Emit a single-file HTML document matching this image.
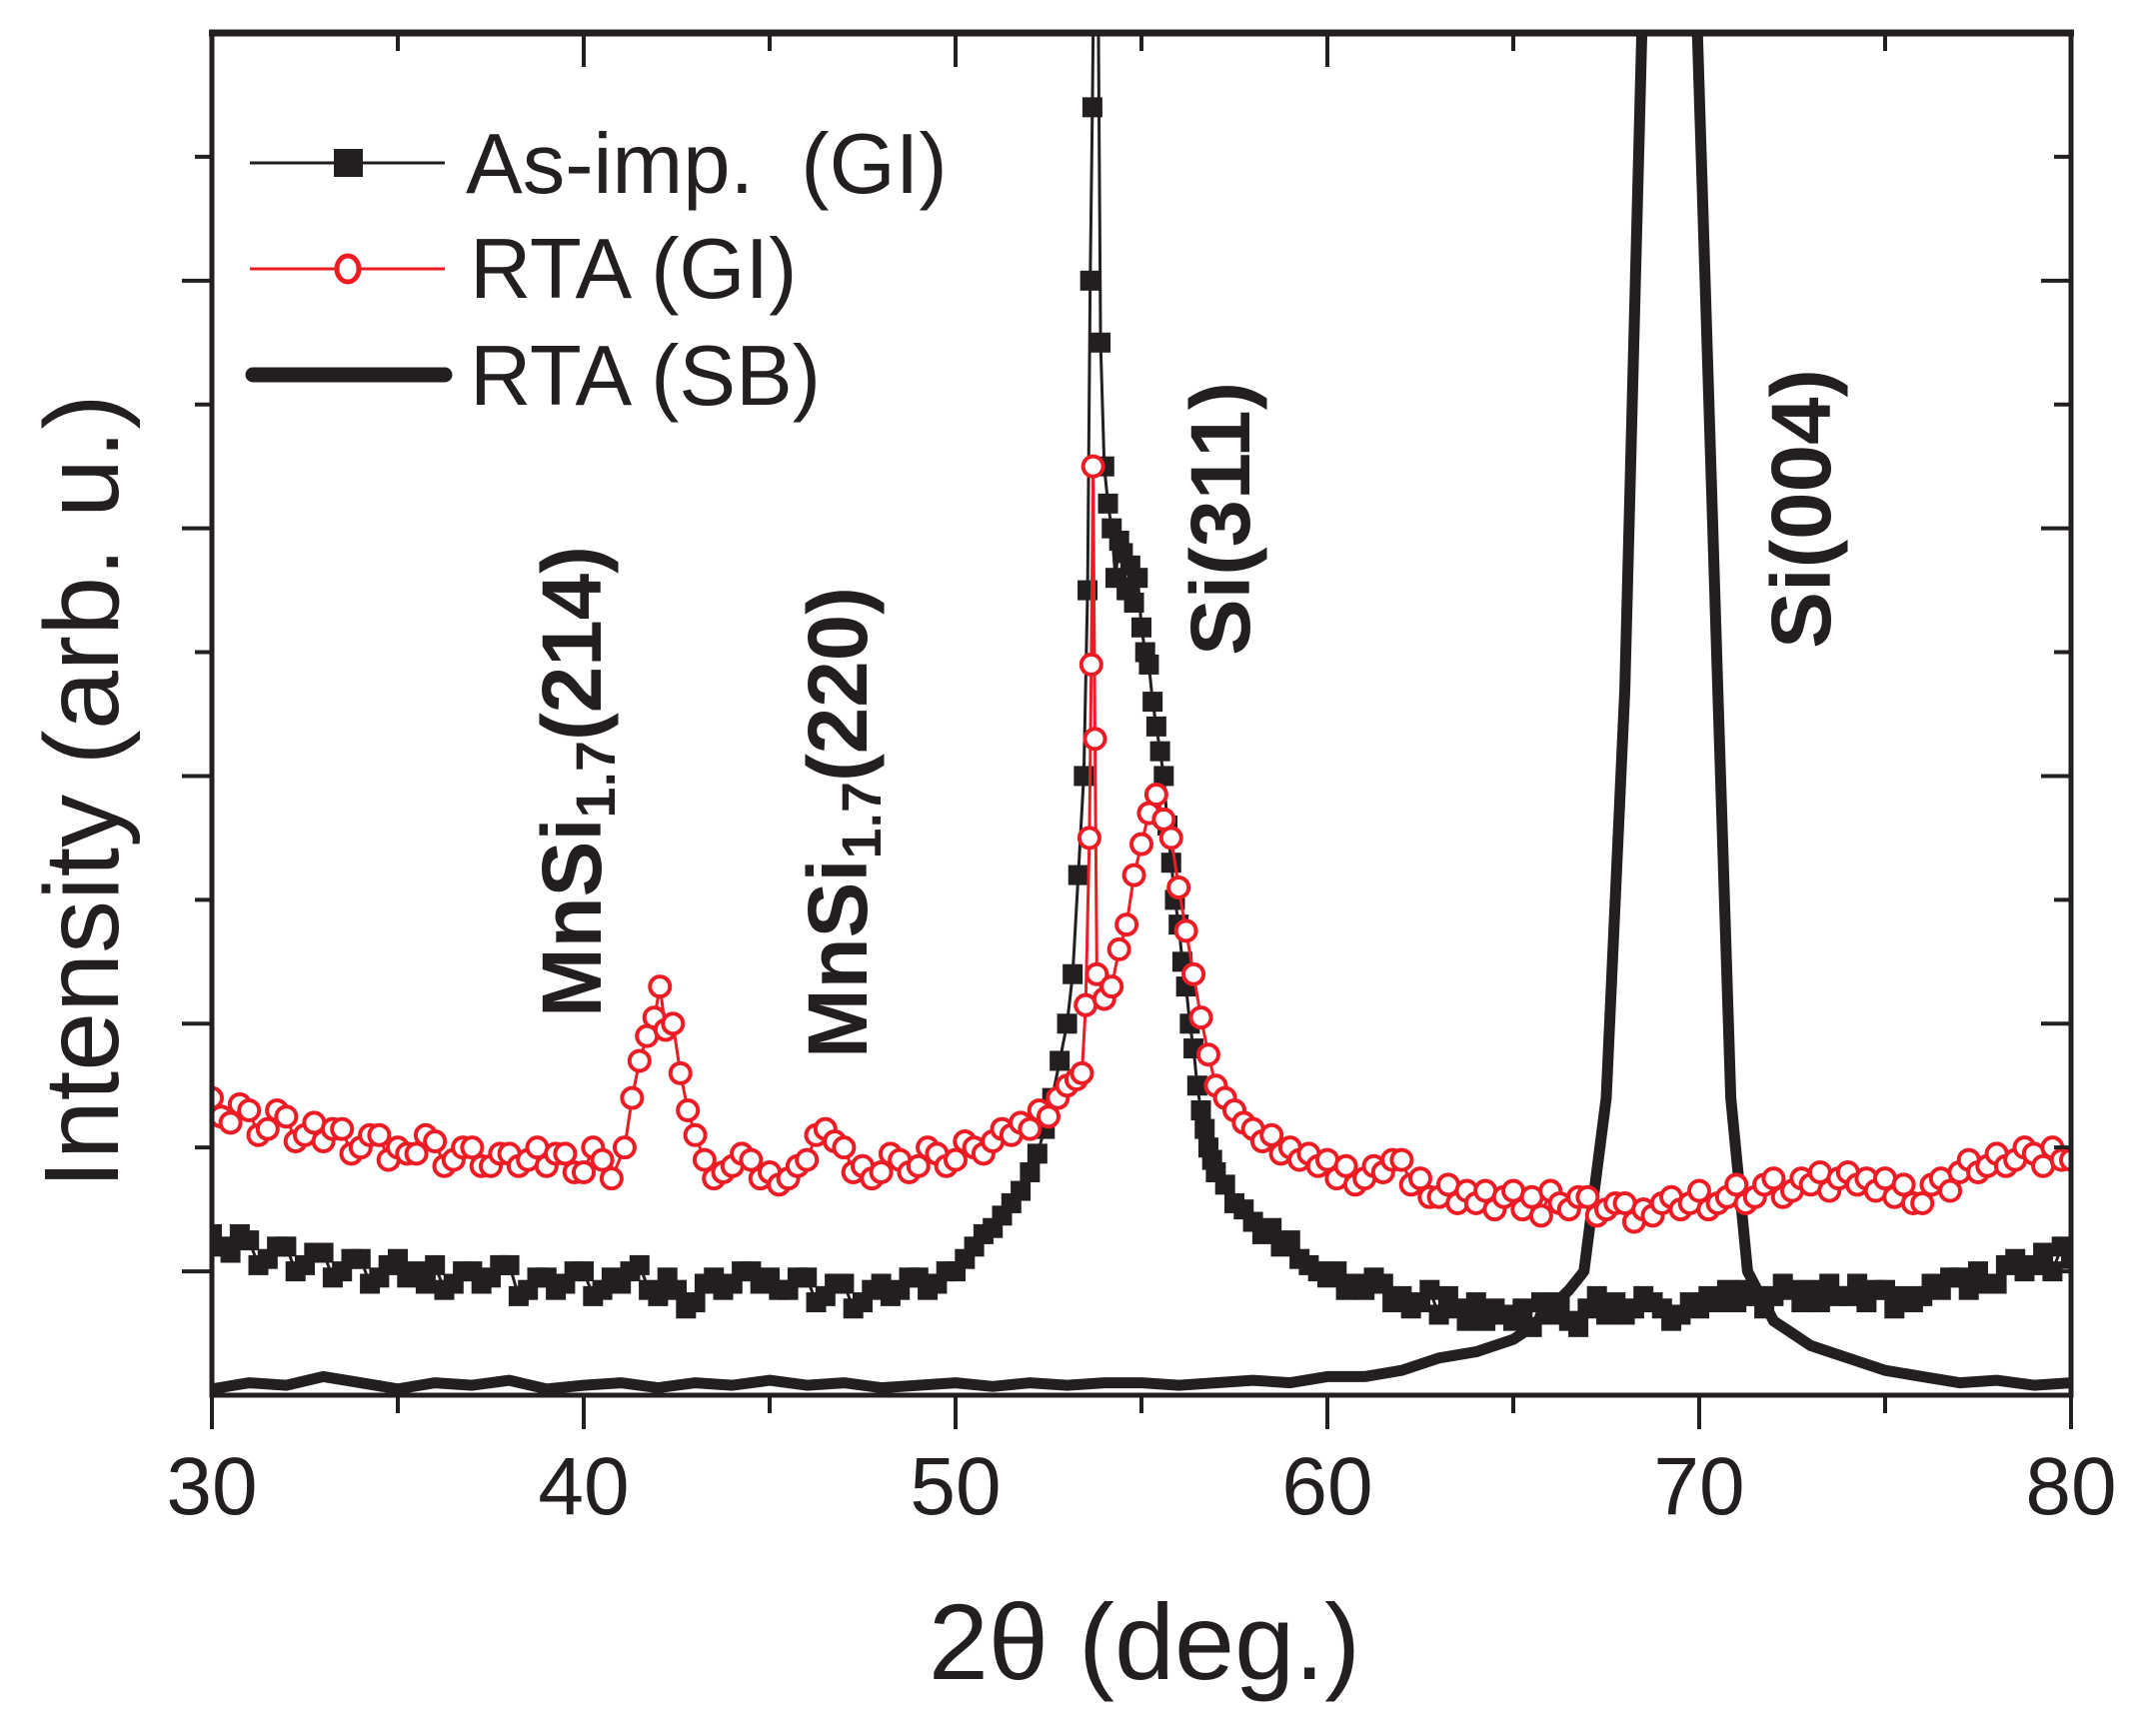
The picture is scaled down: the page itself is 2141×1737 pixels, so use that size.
<!DOCTYPE html>
<html><head><meta charset="utf-8"><style>
html,body{margin:0;padding:0;background:#fff;}
svg{display:block;font-family:"Liberation Sans",Arial,sans-serif;}
</style></head><body>
<svg id="chart" width="2141" height="1737" viewBox="0 0 2141 1737" xmlns="http://www.w3.org/2000/svg">
<defs><clipPath id="plotclip"><rect x="212" y="33" width="1860" height="1363"/></clipPath></defs>
<g id="series" clip-path="url(#plotclip)"></g>
<g id="axes"></g>
<g id="legend">
  <g>
    <line x1="250" y1="163" x2="445" y2="163" stroke="#231f20" stroke-width="3"/>
    <rect x="334" y="149" width="29" height="28" fill="#231f20"/>
    <text x="466" y="193" font-size="85" fill="#231f20" style="white-space:pre">As-imp.  (GI)</text>
  </g>
  <g>
    <line x1="250" y1="269" x2="445" y2="269" stroke="#ed1c24" stroke-width="3"/>
    <ellipse cx="348" cy="269" rx="11" ry="13" fill="#fff" stroke="#ed1c24" stroke-width="5"/>
    <text x="470" y="298" font-size="85" fill="#231f20">RTA (GI)</text>
  </g>
  <g>
    <line x1="253" y1="375" x2="445" y2="375" stroke="#231f20" stroke-width="15" stroke-linecap="round"/>
    <text x="470" y="405" font-size="85" fill="#231f20">RTA (SB)</text>
  </g>
</g>
<g font-weight="bold" fill="#231f20" font-size="84">
  <text transform="translate(601,1018) rotate(-90)" textLength="472" lengthAdjust="spacingAndGlyphs">MnSi<tspan font-size="56" dy="14">1.7</tspan><tspan dy="-14">(214)</tspan></text>
  <text transform="translate(867,1059) rotate(-90)" textLength="472" lengthAdjust="spacingAndGlyphs">MnSi<tspan font-size="56" dy="14">1.7</tspan><tspan dy="-14">(220)</tspan></text>
  <text transform="translate(1250,656) rotate(-90)" textLength="274" lengthAdjust="spacingAndGlyphs">Si(311)</text>
  <text transform="translate(1831,649) rotate(-90)" textLength="280" lengthAdjust="spacingAndGlyphs">Si(004)</text>
</g>
<text x="1145" y="1680" font-size="108" text-anchor="middle" fill="#231f20">2θ (deg.)</text>
<text transform="translate(118,792) rotate(-90)" font-size="106" text-anchor="middle" fill="#231f20">Intensity (arb. u.)</text>
</svg>
<script>
const xMin = 30, xMax = 80, yMin = 0, yMax = 11;
const xTicks = [30, 40, 50, 60, 70, 80];
const xTickLabels = ["30", "40", "50", "60", "70", "80"];

const asImpX = [30,30.25,30.5,30.75,31,31.25,31.5,31.75,32,32.25,32.5,32.75,33,33.25,33.5,33.75,34,34.25,34.5,34.75,35,35.25,35.5,35.75,36,36.25,36.5,36.75,37,37.25,37.5,37.75,38,38.25,38.5,38.75,39,39.25,39.5,39.75,40,40.25,40.5,40.75,41,41.25,41.5,41.75,42,42.25,42.5,42.75,43,43.25,43.5,43.75,44,44.25,44.5,44.75,45,45.25,45.5,45.75,46,46.25,46.5,46.75,47,47.25,47.5,47.75,48,48.25,48.5,48.75,49,49.25,49.5,49.75,50,50.25,50.5,50.75,51,51.25,51.5,51.75,52,
52.2,52.4,52.6,52.8,53.0,53.15,53.3,53.45,53.55,53.62,53.68,53.75,53.82,53.9,54.0,54.1,54.2,54.3,54.4,54.5,54.6,54.7,54.8,54.9,55.0,55.1,55.2,55.3,55.4,55.5,55.6,55.7,55.8,55.9,56.0,56.1,56.2,56.3,56.4,56.5,56.6,56.7,56.8,56.9,
57,57.25,57.5,57.75,58,58.25,58.5,58.75,59,59.25,59.5,59.75,60,60.25,60.5,60.75,61,61.25,61.5,61.75,62,62.25,62.5,62.75,63,63.25,63.5,63.75,64,64.25,64.5,64.75,65,65.25,65.5,65.75,66,66.25,66.5,66.75,67,67.25,67.5,67.75,68,68.25,68.5,68.75,69,69.25,69.5,69.75,70,70.25,70.5,70.75,71,71.25,71.5,71.75,72,72.25,72.5,72.75,73,73.25,73.5,73.75,74,74.25,74.5,74.75,75,75.25,75.5,75.75,76,76.25,76.5,76.75,77,77.25,77.5,77.75,78,78.25,78.5,78.75,79,79.25,79.5,79.75,80];
const asImpY = [1.3,1.2,1.15,1.3,1.25,1.05,1.1,1.2,1.2,1.0,1.05,1.15,1.15,0.95,1.0,1.1,1.1,0.9,0.95,1.05,1.1,0.95,1.0,0.9,1.05,0.85,0.9,1.0,1.0,0.9,0.95,1.05,1.05,0.8,0.85,0.95,0.95,0.85,0.9,1.0,1.0,0.8,0.85,0.95,0.9,1.0,1.05,0.85,0.8,0.95,0.85,0.7,0.75,0.9,0.95,0.85,0.9,1.0,1.0,0.9,0.95,0.85,0.85,0.95,0.95,0.75,0.8,0.9,0.9,0.7,0.75,0.85,0.9,0.8,0.85,0.95,0.95,0.85,0.9,1.0,1.0,1.1,1.2,1.3,1.35,1.45,1.55,1.65,1.8,
1.95,2.15,2.4,2.7,3.0,3.4,4.2,5.0,6.5,9.0,10.4,12.5,12,8.5,7.5,7.2,7.0,6.6,6.9,6.8,6.5,6.7,6.4,6.6,6.2,6.0,5.9,5.6,5.4,5.2,5.0,4.6,4.3,4.0,3.8,3.5,3.3,3.0,2.8,2.5,2.3,2.15,2.0,1.9,
1.8,1.7,1.55,1.5,1.4,1.3,1.35,1.2,1.25,1.1,1.05,1.0,0.95,1.0,0.85,0.9,0.85,0.95,0.9,0.75,0.8,0.7,0.75,0.85,0.65,0.8,0.7,0.6,0.75,0.6,0.7,0.65,0.6,0.7,0.55,0.75,0.65,0.75,0.6,0.55,0.7,0.8,0.65,0.75,0.65,0.7,0.8,0.75,0.7,0.6,0.65,0.75,0.7,0.8,0.75,0.85,0.75,0.85,0.8,0.7,0.8,0.9,0.85,0.75,0.85,0.75,0.9,0.8,0.8,0.9,0.75,0.85,0.85,0.7,0.8,0.75,0.8,0.9,0.85,0.95,0.95,0.85,1.0,0.9,0.9,1.05,1.1,1.0,1.05,1.15,1.0,1.2,1.1];

const rtaGiX = [30,30.25,30.5,30.75,31,31.25,31.5,31.75,32,32.25,32.5,32.75,33,33.25,33.5,33.75,34,34.25,34.5,34.75,35,35.25,35.5,35.75,36,36.25,36.5,36.75,37,37.25,37.5,37.75,38,38.25,38.5,38.75,39,39.25,39.5,39.75,40,40.25,40.5,40.75,
41.1,41.3,41.5,41.7,41.9,42.05,42.2,42.4,42.6,42.8,43,43.25,43.5,43.75,
44,44.25,44.5,44.75,45,45.25,45.5,45.75,46,46.25,46.5,46.75,47,47.25,47.5,47.75,48,48.25,48.5,48.75,49,49.25,49.5,49.75,50,50.25,50.5,50.75,51,51.25,51.5,51.75,52,52.25,52.5,52.75,53,53.25,53.4,
53.5,53.6,53.65,53.7,53.75,53.8,54.0,54.2,54.4,54.6,54.8,55.0,55.2,55.4,55.6,55.8,56.0,56.2,56.4,56.6,56.8,
57,57.25,57.5,57.75,58,58.25,58.5,58.75,59,59.25,59.5,59.75,60,60.25,60.5,60.75,61,61.25,61.5,61.75,62,62.25,62.5,62.75,63,63.25,63.5,63.75,64,64.25,64.5,64.75,65,65.25,65.5,65.75,66,66.25,66.5,66.75,67,67.25,67.5,67.75,68,68.25,68.5,68.75,69,69.25,69.5,69.75,70,70.25,70.5,70.75,71,71.25,71.5,71.75,72,72.25,72.5,72.75,73,73.25,73.5,73.75,74,74.25,74.5,74.75,75,75.25,75.5,75.75,76,76.25,76.5,76.75,77,77.25,77.5,77.75,78,78.25,78.5,78.75,79,79.25,79.5,79.75,80];
const rtaGiY = [2.4,2.25,2.2,2.35,2.3,2.1,2.15,2.3,2.25,2.05,2.1,2.2,2.05,2.15,2.15,1.95,2.0,2.1,2.1,1.9,2.0,1.95,1.95,2.1,2.05,1.85,1.9,2.0,2.0,1.85,1.85,1.95,1.95,1.85,1.9,2.0,1.85,1.95,1.95,1.8,1.8,2.0,1.9,1.75,
2.0,2.4,2.7,2.9,3.05,3.3,2.95,3.0,2.6,2.3,2.1,1.9,1.75,1.8,
1.85,1.95,1.9,1.75,1.8,1.7,1.75,1.85,1.9,2.1,2.15,2.05,2.0,1.8,1.85,1.75,1.8,1.95,1.9,1.8,1.85,2.0,1.95,1.85,1.9,2.05,2.0,1.95,2.05,2.15,2.1,2.2,2.15,2.3,2.25,2.4,2.5,2.55,2.6,
3.15,4.5,5.9,7.5,5.3,3.4,3.2,3.3,3.6,3.8,4.2,4.45,4.7,4.85,4.65,4.5,4.1,3.75,3.4,3.05,2.75,
2.5,2.4,2.3,2.2,2.15,2.05,2.1,1.95,2.0,1.9,1.95,1.85,1.9,1.75,1.85,1.7,1.75,1.85,1.8,1.9,1.9,1.7,1.75,1.6,1.6,1.7,1.55,1.65,1.55,1.65,1.5,1.6,1.65,1.5,1.6,1.45,1.65,1.55,1.5,1.6,1.6,1.45,1.5,1.55,1.55,1.4,1.5,1.45,1.55,1.6,1.5,1.55,1.65,1.5,1.55,1.6,1.7,1.55,1.6,1.7,1.75,1.6,1.65,1.75,1.7,1.8,1.65,1.75,1.8,1.7,1.75,1.65,1.75,1.6,1.7,1.55,1.55,1.7,1.75,1.65,1.8,1.9,1.8,1.85,1.95,1.85,1.9,2.0,1.95,1.85,2.0,1.9,1.9];

const rtaSbX = [30,31,32,33,34,35,36,37,38,39,40,41,42,43,44,45,46,47,48,49,50,51,52,53,54,55,56,57,58,59,60,61,62,63,64,65,65.5,66,66.5,66.9,67.5,68.0,68.5,68.7,69.7,69.9,70.5,70.85,71.3,72,72.5,73,73.5,74,75,76,77,78,79,80];
const rtaSbY = [0.05,0.1,0.08,0.15,0.1,0.05,0.1,0.08,0.12,0.05,0.08,0.1,0.06,0.1,0.08,0.12,0.08,0.1,0.06,0.08,0.1,0.07,0.1,0.08,0.1,0.1,0.08,0.1,0.12,0.1,0.15,0.15,0.2,0.3,0.35,0.45,0.55,0.7,0.85,1.0,2.4,5.7,11.5,13,13,11.5,5.7,2.4,1.0,0.6,0.5,0.4,0.35,0.3,0.2,0.15,0.1,0.12,0.08,0.1];

const L = 212, R = 2072, T = 33, B = 1396;
function sx(v){ return L + (v - xMin) / (xMax - xMin) * (R - L); }
function sy(v){ return B - (v - yMin) / (yMax - yMin) * (B - T); }
const NS = "http://www.w3.org/2000/svg";
function mk(tag, attrs, parent){
  const e = document.createElementNS(NS, tag);
  for (const k in attrs) e.setAttribute(k, attrs[k]);
  parent.appendChild(e); return e;
}
const series = document.getElementById('series');
const axes = document.getElementById('axes');

let d = rtaSbX.map((x,i)=>(i?'L':'M')+sx(x).toFixed(1)+' '+sy(rtaSbY[i]).toFixed(1)).join(' ');
const sb = mk('path', {d:d, fill:'none', stroke:'#231f20', 'stroke-width':11, 'stroke-linejoin':'round'}, series);



d = asImpX.map((x,i)=>(i?'L':'M')+sx(x).toFixed(1)+' '+sy(asImpY[i]).toFixed(1)).join(' ');
const al = mk('path', {d:d, fill:'none', stroke:'#231f20', 'stroke-width':3}, series);


asImpX.forEach((x,i)=>{
  const s = 20;
  const r = mk('rect', {x:sx(x)-s/2, y:sy(asImpY[i])-s/2, width:s, height:s, fill:'#231f20'}, series);
  
  
});

d = rtaGiX.map((x,i)=>(i?'L':'M')+sx(x).toFixed(1)+' '+sy(rtaGiY[i]).toFixed(1)).join(' ');
const rl = mk('path', {d:d, fill:'none', stroke:'#ed1c24', 'stroke-width':3}, series);


rtaGiX.forEach((x,i)=>{
  const c = mk('circle', {cx:sx(x), cy:sy(rtaGiY[i]), r:10, fill:'#fff', stroke:'#ed1c24', 'stroke-width':4}, series);
  
  
});

const fr = mk('rect', {x:L, y:T, width:R-L, height:B-T, fill:'none', stroke:'#231f20', 'stroke-width':5}, axes);


mk('line', {x1:L-3, y1:T, x2:R+3, y2:T, stroke:'#231f20', 'stroke-width':7}, axes);

for (let v = xMin; v <= xMax; v += 5){
  const major = (v % 10 === 0);
  const len = major ? 34 : 18;
  const x = sx(v);
  const t = mk('line', {x1:x, y1:B, x2:x, y2:B+len, stroke:'#231f20', 'stroke-width':4}, axes);
  
  
  mk('line', {x1:x, y1:T, x2:x, y2:T+len, stroke:'#231f20', 'stroke-width':4}, axes);
}
xTicks.forEach((v,i)=>{
  const lb = mk('text', {x:sx(v), y:1515, 'font-size':82, 'text-anchor':'middle', fill:'#231f20'}, axes);
  lb.textContent = xTickLabels[i];
  
  
});
for (let v = 1; v < yMax; v += 1){
  const major = (v % 2 === 1);
  const len = major ? 30 : 17;
  const y = sy(v);
  const t = mk('line', {x1:L, y1:y, x2:L-len, y2:y, stroke:'#231f20', 'stroke-width':4}, axes);
  
  
  mk('line', {x1:R, y1:y, x2:R-len, y2:y, stroke:'#231f20', 'stroke-width':4}, axes);
}
</script>
</body></html>
